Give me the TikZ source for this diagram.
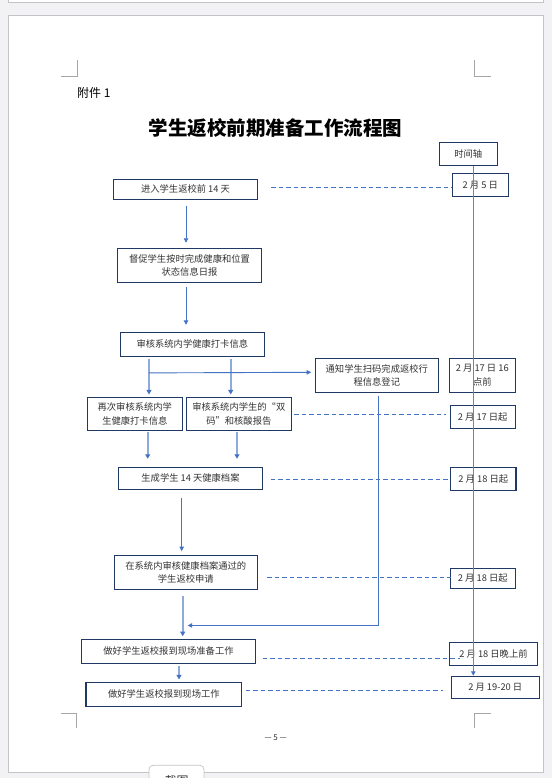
\documentclass[tikz,border=0pt]{standalone}
\usepackage{fontspec}
\newfontfamily\cjk{Noto Sans CJK SC}
\usetikzlibrary{calc,arrows.meta}
\definecolor{bgc}{HTML}{F2F2F4}
\definecolor{pageb}{HTML}{C4C4C8}
\definecolor{boxc}{HTML}{1F3864}
\definecolor{txt}{HTML}{333333}
\definecolor{bl}{HTML}{4472C4}
\definecolor{lbl}{HTML}{8EAADB}
\definecolor{tlc}{HTML}{5B87D6}
\definecolor{crop}{HTML}{A6A6A6}
\tikzset{
  box/.style={draw=boxc, line width=1.1pt, fill=white, text=txt, align=center,
    inner sep=0pt, font=\cjk\fontsize{9.3}{13.4}\selectfont},
  arr/.style={draw=bl, line width=0.9pt, -{Triangle[length=4.5pt,width=4.5pt]}},
  arrl/.style={draw=lbl, line width=1.7pt, -{Triangle[length=4.5pt,width=5pt,color=bl]}},
  dl/.style={draw=bl, line width=0.9pt, dash pattern=on 4.5pt off 3pt},
  tl/.style={draw=tlc, line width=1pt, -{Triangle[length=4.5pt,width=4.5pt,color=bl]}},
  cropm/.style={draw=crop, line width=0.8pt}
}
\begin{document}
\begin{tikzpicture}[x=1pt,y=-1pt]
\useasboundingbox (0,0) rectangle (552,778);
\clip (0,0) rectangle (552,778);
% background and pages
\fill[bgc] (0,0) rectangle (552,778);
\draw[pageb, fill=white, line width=0.8pt] (8.5,-10) rectangle (543,2);
\draw[pageb, fill=white, line width=0.8pt] (8.5,15.5) rectangle (543,772);
% crop marks
\draw[cropm] (61,76) -- (77,76) -- (77,60);
\draw[cropm] (474,60) -- (474,76) -- (491,76);
\draw[cropm] (61,713.3) -- (76,713.3) -- (76,728.3);
\draw[cropm] (474.3,728.3) -- (474.3,713.3) -- (490.7,713.3);
% headings
\node[anchor=west, text=black, font=\cjk\fontsize{12}{14}\selectfont, inner sep=0pt] (att) at (77,92.6) {附件 1};
\node[text=black, font=\cjk\bfseries\fontsize{19.5}{22}\selectfont, inner sep=0pt] (title) at (275.5,128.5) {学生返校前期准备工作流程图};
% boxes
\node[box, minimum width=58, minimum height=23] (t0) at (468.3,153.8) {时间轴};
\node[box, minimum width=56, minimum height=23] (d1) at (480.3,184.8) {2 月 5 日};
\node[box, minimum width=144.4, minimum height=20] (b1) at (185.5,189.3) {进入学生返校前 14 天};
\node[box, minimum width=144.4, minimum height=34] (b2) at (189.5,265.3) {督促学生按时完成健康和位置\\状态信息日报};
\node[box, minimum width=144, minimum height=23.7] (b3) at (192.3,344.2) {审核系统内学健康打卡信息};
\node[box, minimum width=123, minimum height=34] (b4) at (376.8,375.3) {通知学生扫码完成返校行\\程信息登记};
\node[box, minimum width=66, minimum height=34] (d2) at (482.3,375.3) {2 月 17 日 16\\点前};
\node[box, minimum width=95, minimum height=33] (b5) at (134.8,413.8) {再次审核系统内学\\生健康打卡信息};
\node[box, minimum width=105, minimum height=33] (b6) at (238.8,413.8) {审核系统内学生的“双\\码”和核酸报告};
\node[box, minimum width=64.7, minimum height=23.3] (d3) at (482.7,416.7) {2 月 17 日起};
\node[box, minimum width=143.6, minimum height=22] (b7) at (190.5,478.3) {生成学生 14 天健康档案};
\node[box, minimum width=65.3, minimum height=22.7] (d4) at (483.3,478.7) {2 月 18 日起};
\node[box, minimum width=143, minimum height=33.6] (b8) at (185.8,572.5) {在系统内审核健康档案通过的\\学生返校申请};
\node[box, minimum width=65, minimum height=19.6] (d5) at (482.8,578.5) {2 月 18 日起};
\node[box, minimum width=174.4, minimum height=24] (b9) at (168.5,651.3) {做好学生返校报到现场准备工作};
\node[box, minimum width=88.4, minimum height=23] (d6) at (493.5,653.8) {2 月 18 日晚上前};
\node[box, minimum width=155.7, minimum height=24] (b10) at (163.85,694.3) {做好学生返校报到现场工作};
\node[box, minimum width=88, minimum height=22] (d7) at (495.3,687.3) {2 月 19-20 日};
% solid connectors
\draw[arr] ($(b1.south)+(0.5,6)$) -- ($(b1.south |- b2.north)+(0.5,-5)$);
\draw[arr] ($(b2.south)+(-3.5,4.5)$) -- ($(b2.south |- b3.north)+(-3.5,-7)$);
\draw[arrl] ($(b3.south)+(-43.3,2.3)$) -- ($(b3.south |- b5.north)+(-43.3,-2.3)$);
\draw[arrl] ($(b3.south)+(38.4,2.3)$) -- ($(b3.south |- b6.north)+(38.4,-2.3)$);
\draw[arr] ($(b3.south)+(-43.3,16.3)$) -- ($(b4.west)+(-3.6,-3)$);
\draw[arrl] ($(b5.south)+(12.9,1.5)$) -- ($(b5.south |- b7.north)+(12.9,-8)$);
\draw[arrl] ($(b6.south)+(-1.8,1.5)$) -- ($(b6.south |- b7.north)+(-1.8,-8)$);
\draw[arr] ($(b7.south)+(-8.8,8)$) -- ($(b7.south |- b8.north)+(-8.8,-4)$);
\draw[arrl] ($(b8.south)+(-3.1,6)$) -- ($(b8.south |- b9.north)+(-3.1,-2.6)$);
\draw[arr] ($(b4.south)+(1.5,2.7)$) |- ($(b9.north)+(19.2,-13.3)$);
\draw[arrl] ($(b9.south)+(10.5,1.7)$) -- ($(b9.south |- b10.north)+(10.5,-2.3)$);
% dashed guides
\draw[dl] ($(b1.east)+(13,-2)$) -- ($(b1.east -| d1.west)+(0,-2)$);
\draw[dl] ($(b6.east)+(2.5,0.5)$) -- ($(b6.east -| d3.west)+(-3.6,0.5)$);
\draw[dl] ($(b7.east)+(7.7,1)$) -- ($(b7.east -| d4.west)+(0,1)$);
\draw[dl] ($(b8.east)+(9.4,4.8)$) -- ($(b8.east -| d5.west)+(1.7,4.8)$);
\draw[dl] ($(b9.east)+(6.3,7)$) -- ($(b9.east -| d6.west)+(11.4,7)$);
\draw[dl] ($(b10.east)+(3.3,-4)$) -- ($(b10.east -| d7.west)+(-7.3,-4)$);
% timeline
\draw[tl] ($(t0.south)+(5,0)$) -- ($(t0.south |- d7.north)+(5,0)$);
% footer
\node[text=txt, font=\cjk\fontsize{8}{10}\selectfont, inner sep=0pt] (pg) at (275.7,737.3) {— 5 —};
\draw[draw=pageb, fill=white, rounded corners=4pt, line width=0.7pt] (149,765.3) rectangle (204,795);
\node[text=txt, font=\cjk\fontsize{12}{14}\selectfont, inner sep=0pt] (jt) at (176.5,781) {截图};
\end{tikzpicture}
\end{document}
